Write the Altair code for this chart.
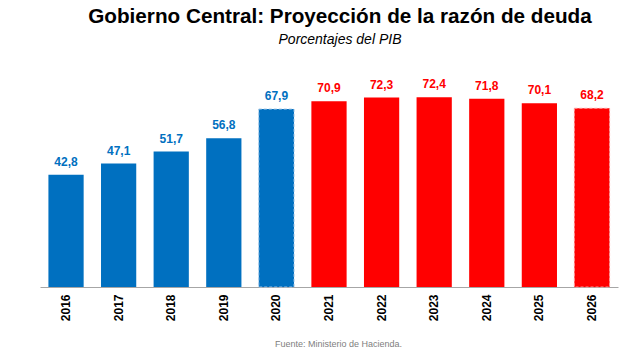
import altair as alt
import pandas as pd

years = ["2016", "2017", "2018", "2019", "2020", "2021", "2022", "2023", "2024", "2025", "2026"]
values = [42.8, 47.1, 51.7, 56.8, 67.9, 70.9, 72.3, 72.4, 71.8, 70.1, 68.2]
series = ["Efectivo"] * 5 + ["Proyección"] * 6
labels = [f"{v:.1f}".replace(".", ",") for v in values]

df = pd.DataFrame({"year": years, "value": values, "serie": series, "label": labels})

FONT = "Liberation Sans"
color_scale = alt.Scale(domain=["Efectivo", "Proyección"], range=["#0070C0", "#FF0000"])

x = alt.X(
    "year:N",
    sort=years,
    scale=alt.Scale(paddingInner=0.33, paddingOuter=0.16),
    axis=alt.Axis(
        title="Fuente: Ministerio de Hacienda.",
        titleFont=FONT,
        titleFontSize=9,
        titleFontWeight="normal",
        titleColor="#808080",
        titleBaseline="middle",
        titleAlign="center",
        titleX=298,
        titleY=56,
        labelAngle=270,
        labelAlign="right",
        labelBaseline="middle",
        labelFont=FONT,
        labelFontSize=12,
        labelFontWeight="bold",
        labelColor="#000000",
        labelPadding=7,
        ticks=False,
        grid=False,
        domainColor="#A6A6A6",
        domainWidth=1,
    ),
)
y = alt.Y("value:Q", scale=alt.Scale(domain=[0, 85.1]), axis=None)

dashed = alt.FieldOneOfPredicate(field="year", oneOf=["2020", "2026"])

bars = alt.Chart(df).mark_bar(strokeWidth=1).encode(
    x=x,
    y=y,
    color=alt.Color("serie:N", scale=color_scale, legend=None),
    stroke=alt.condition(dashed, alt.Color("serie:N", scale=alt.Scale(domain=["Efectivo", "Proyección"], range=["#9DC3E6", "#FF9999"]), legend=None), alt.value("transparent")),
    strokeDash=alt.condition(dashed, alt.value([3, 2]), alt.value([1, 0])),
)

text = alt.Chart(df).mark_text(
    baseline="bottom", dy=-6, font=FONT, fontSize=12, fontWeight="bold"
).encode(
    x=alt.X("year:N", sort=years),
    y=y,
    text="label:N",
    color=alt.Color("serie:N", scale=color_scale, legend=None),
)

chart = (
    alt.layer(bars, text)
    .properties(
        width=578,
        height=223,
        view=alt.ViewBackground(stroke="transparent", strokeWidth=0),
        autosize=alt.AutoSizeParams(type="none"),
        padding={"left": 40, "top": 64, "right": 12, "bottom": 61},
        title=alt.TitleParams(
            text="Gobierno Central: Proyección de la razón de deuda",
            subtitle="Porcentajes del PIB",
            font=FONT,
            fontSize=20.7,
            fontWeight="bold",
            color="#000000",
            subtitleFont=FONT,
            subtitleFontSize=14,
            subtitleFontStyle="italic",
            subtitleColor="#000000",
            subtitlePadding=5,
            anchor="middle",
            dx=11,
            offset=16,
        ),
    )
    .configure_view(strokeWidth=0, stroke="transparent")
    .configure_axis(grid=False)
    .configure(background="#FFFFFF")
)

chart.save("out.html", embed_options={"renderer": "svg", "actions": False})
